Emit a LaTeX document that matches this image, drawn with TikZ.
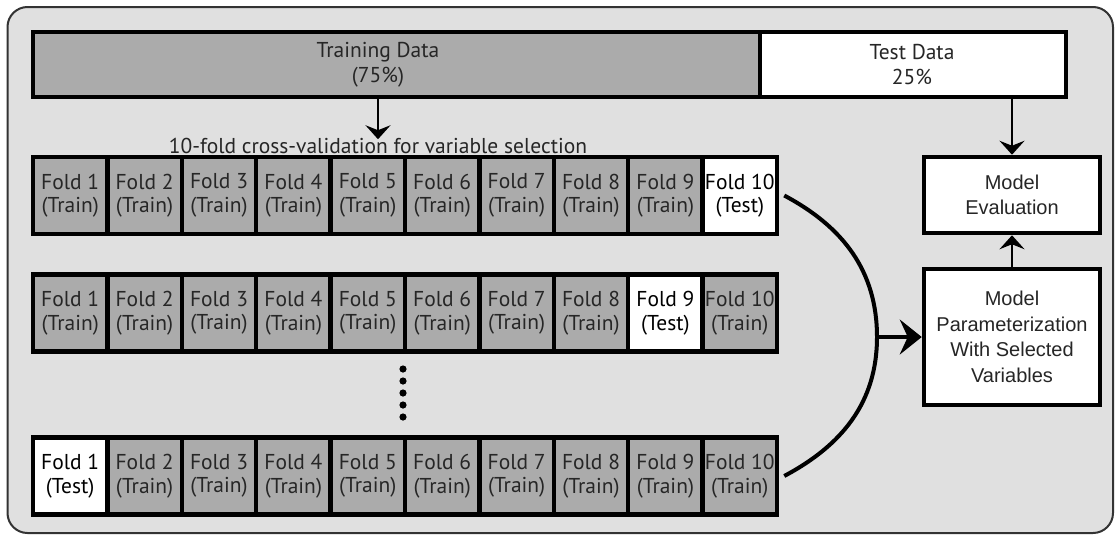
\documentclass[tikz,border=0pt]{standalone}
\usepackage{fontspec}
\setmainfont{PT Sans}
\newfontfamily\arialf{Liberation Sans}
\usetikzlibrary{arrows.meta,calc}
\definecolor{bgc}{HTML}{E0E0E0}
\definecolor{grayc}{HTML}{ABABAB}
\definecolor{txtc}{HTML}{262626}
\definecolor{framec}{HTML}{333333}
\begin{document}
\begin{tikzpicture}[x=1pt,y=-1pt,
  cellbox/.style={draw=black,line width=4.5pt,minimum width=74.4pt,minimum height=77pt,inner sep=0pt,align=center,font=\fontsize{21.5}{23.5}\selectfont,text=txtc},
  trainc/.style={cellbox,fill=grayc},
  testc/.style={cellbox,fill=white,text=black},
  modelbox/.style={draw=black,line width=4.5pt,fill=white,minimum width=176pt,inner sep=0pt,align=center,font=\arialf\fontsize{20}{25.5}\selectfont,text=txtc},
  arr/.style={line width=2.5pt,-{Stealth[length=14pt,width=25pt,inset=5pt]}},
  bigarr/.style={line width=4pt,-{Stealth[length=22pt,width=35pt,inset=8pt]}},
  lbl/.style={align=center,font=\fontsize{21.5}{25}\selectfont,text=txtc,inner sep=0pt}
]
\useasboundingbox (0,0) rectangle (1116,536);
\draw[fill=bgc,draw=framec,line width=2pt,rounded corners=20pt] (7.5,7) rectangle (1113,533);

% top bar
\node[draw=black,line width=4.5pt,fill=grayc,minimum width=727pt,minimum height=65pt,inner sep=0pt] (train) at (396.5,64.5) {};
\node[draw=black,line width=4.5pt,fill=white,minimum width=306pt,minimum height=65pt,inner sep=0pt] (test) at (913,64.5) {};
\node[lbl] (trtext) at (378,64.5) {Training Data\\(75\%)};
\node[lbl] (tetext) at (912,64.5) {Test Data\\25\%};

\node[lbl,anchor=base] (cvtext) at (378,153.5) {10-fold cross-validation for variable selection};
\draw[arr] (train.south -| trtext) -- ++(0,40);

% fold rows
\foreach \i in {1,...,9}{
  \node[trainc] (a\i) at ({33+74.4*(\i-0.5)},195.5) {Fold \i\\(Train)};
}
\node[testc] (a10) at ({33+74.4*9.5},195.5) {Fold 10\\(Test)};

\foreach \i in {1,...,8}{
  \node[trainc] (b\i) at ({33+74.4*(\i-0.5)},313) {Fold \i\\(Train)};
}
\node[testc] (b9) at ({33+74.4*8.5},313) {Fold 9\\(Test)};
\node[trainc] (b10) at ({33+74.4*9.5},313) {Fold 10\\(Train)};

\node[testc] (c1) at ({33+74.4*0.5},476) {Fold 1\\(Test)};
\foreach \i in {2,...,10}{
  \node[trainc] (c\i) at ({33+74.4*(\i-0.5)},476) {Fold \i\\(Train)};
}

% dots
\foreach \yy in {369,381,393,405,417}{
  \fill[black] (403,\yy) circle (3.6pt);
}

% model boxes
\node[modelbox,minimum height=76pt] (eval) at (1012,195) {Model\\Evaluation};
\node[modelbox,minimum height=136pt] (param) at (1012,337) {Model\\Parameterization\\With Selected\\Variables};

\draw[arr] (test.south -| eval.north) -- (eval.north);
\draw[arr] (param.north) -- (eval.south);

% curves
\coordinate (j) at (877,337);
\draw[line width=4pt] ([xshift=5pt]a10.east) to[out=-28,in=90] (j) to[out=-90,in=28] ([xshift=5pt]c10.east);
\draw[bigarr] ([xshift=-2pt]j) -- (param.west);
\end{tikzpicture}
\end{document}
